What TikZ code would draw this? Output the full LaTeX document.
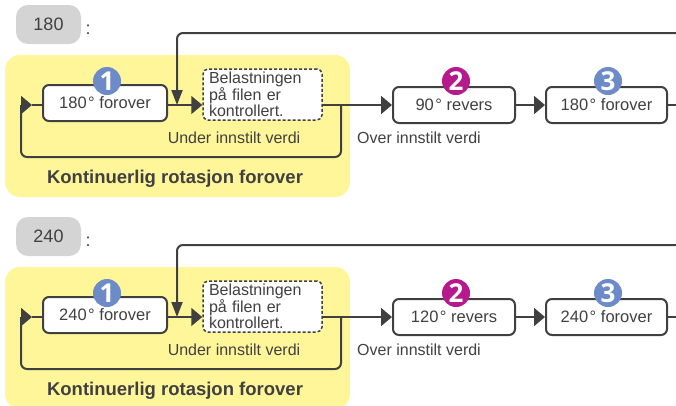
\documentclass[tikz,border=0pt]{standalone}
\usepackage{fontspec}
\setmainfont{Liberation Sans}
\newfontfamily\badgefont{Open Sans}
\usetikzlibrary{arrows.meta}
\definecolor{ln}{HTML}{404040}
\definecolor{yel}{HTML}{FFF699}
\definecolor{pillgray}{HTML}{D4D4D4}
\definecolor{bblue}{HTML}{6C8BC8}
\definecolor{bmag}{HTML}{B5198B}
\newcommand\fsz[1]{\fontsize{#1}{#1}\selectfont}
\newcommand\rowblock[4]{%
  \fill[yel, rounded corners=15pt] (5,55) rectangle (350,197);
  \node[pillnode] (pill) at (48.5,24.5) {#1};
  \node[lbl, font=\fsz{18}, anchor=base] (colon) at (88,34) {:};
  \node[mbox, minimum width=124pt] (b1) at (105,103) {#2};
  \node[dbox] (db) at (262.5,94.5) {Belastningen\\på filen er\\kontrollert.};
  \node[mbox, minimum width=122pt] (b2) at (454,105) {#3};
  \node[mbox, minimum width=121pt] (b3) at (606.5,105) {#4};
  \node[badge, fill=bblue] (n1) at (107,81) {1};
  \node[badge, fill=bmag] (n2) at (456,81) {2};
  \node[badge, fill=bblue] (n3) at (608,81) {3};
  \coordinate (ml) at (32,105);
  \coordinate (lc) at (21,105);
  \coordinate (lb) at (21,157);
  \coordinate (jn) at (341,105);
  \coordinate (jb) at (341,157);
  \coordinate (fbR) at (676,33);
  \coordinate (fbC) at (177,33);
  \coordinate (fbT) at (177,105);
  \coordinate (eR) at (676,105);
  \draw[conn, rounded corners=6pt] (jn) -- (jb) -- (lb) -- (lc);
  \draw[conn, harrow] (lc) -- (ml);
  \draw[conn] (ml) -- (b1.west |- ml);
  \draw[conn, harrow] (b1.east |- ml) -- (db.west |- ml);
  \draw[conn, varrow, rounded corners=6pt] (fbR) -- (fbC) -- (fbT);
  \draw[conn, harrow] (db.east |- ml) -- (b2.west);
  \draw[conn, harrow] (b2.east) -- (b3.west);
  \draw[conn] (b3.east) -- (eR);
  \node[lbl, anchor=base] (under) at (234,143) {Under innstilt verdi};
  \node[lbl, anchor=base] (over) at (419,143) {Over innstilt verdi};
  \node[lbl, font=\bfseries\fsz{18.5}, anchor=base] (ttl) at (175,183) {Kontinuerlig rotasjon forover};
}
\begin{document}
\begin{tikzpicture}[x=1pt, y=-1pt,
  conn/.style={draw=ln, line width=2pt},
  harrow/.style={-{Triangle[length=11pt,width=18pt]}},
  varrow/.style={-{Triangle[length=15pt,width=11pt]}},
  lbl/.style={text=ln, font=\fsz{16}, inner sep=0pt},
  mbox/.style={draw=ln, line width=2pt, fill=white, rounded corners=6pt, minimum height=36pt, inner sep=0pt, text=ln, font=\fsz{16.5}},
  dbox/.style={draw=ln, line width=1.5pt, dash pattern=on 3pt off 2pt, fill=white, rounded corners=5pt, text width=107pt, inner xsep=6pt, inner ysep=0pt, minimum height=51pt, align=left, text=ln, font=\fsz{16}},
  badge/.style={circle, minimum size=28pt, inner sep=0pt, text=white, font=\badgefont\bfseries\fsz{26}},
  pillnode/.style={fill=pillgray, rounded corners=12pt, minimum width=65pt, minimum height=39pt, inner sep=0pt, text=ln, font=\fsz{18}}
]
\useasboundingbox (0,0) rectangle (676,405);
\clip (0,0) rectangle (676,405);
\begin{scope}[name prefix=top-]
\rowblock{180}{180\kern1.5pt° forover}{90\kern1.5pt° revers}{180\kern1.5pt° forover}
\end{scope}
\begin{scope}[yshift=-212pt, name prefix=bot-]
\rowblock{240}{240\kern1.5pt° forover}{120\kern1.5pt° revers}{240\kern1.5pt° forover}
\end{scope}
\end{tikzpicture}
\end{document}
